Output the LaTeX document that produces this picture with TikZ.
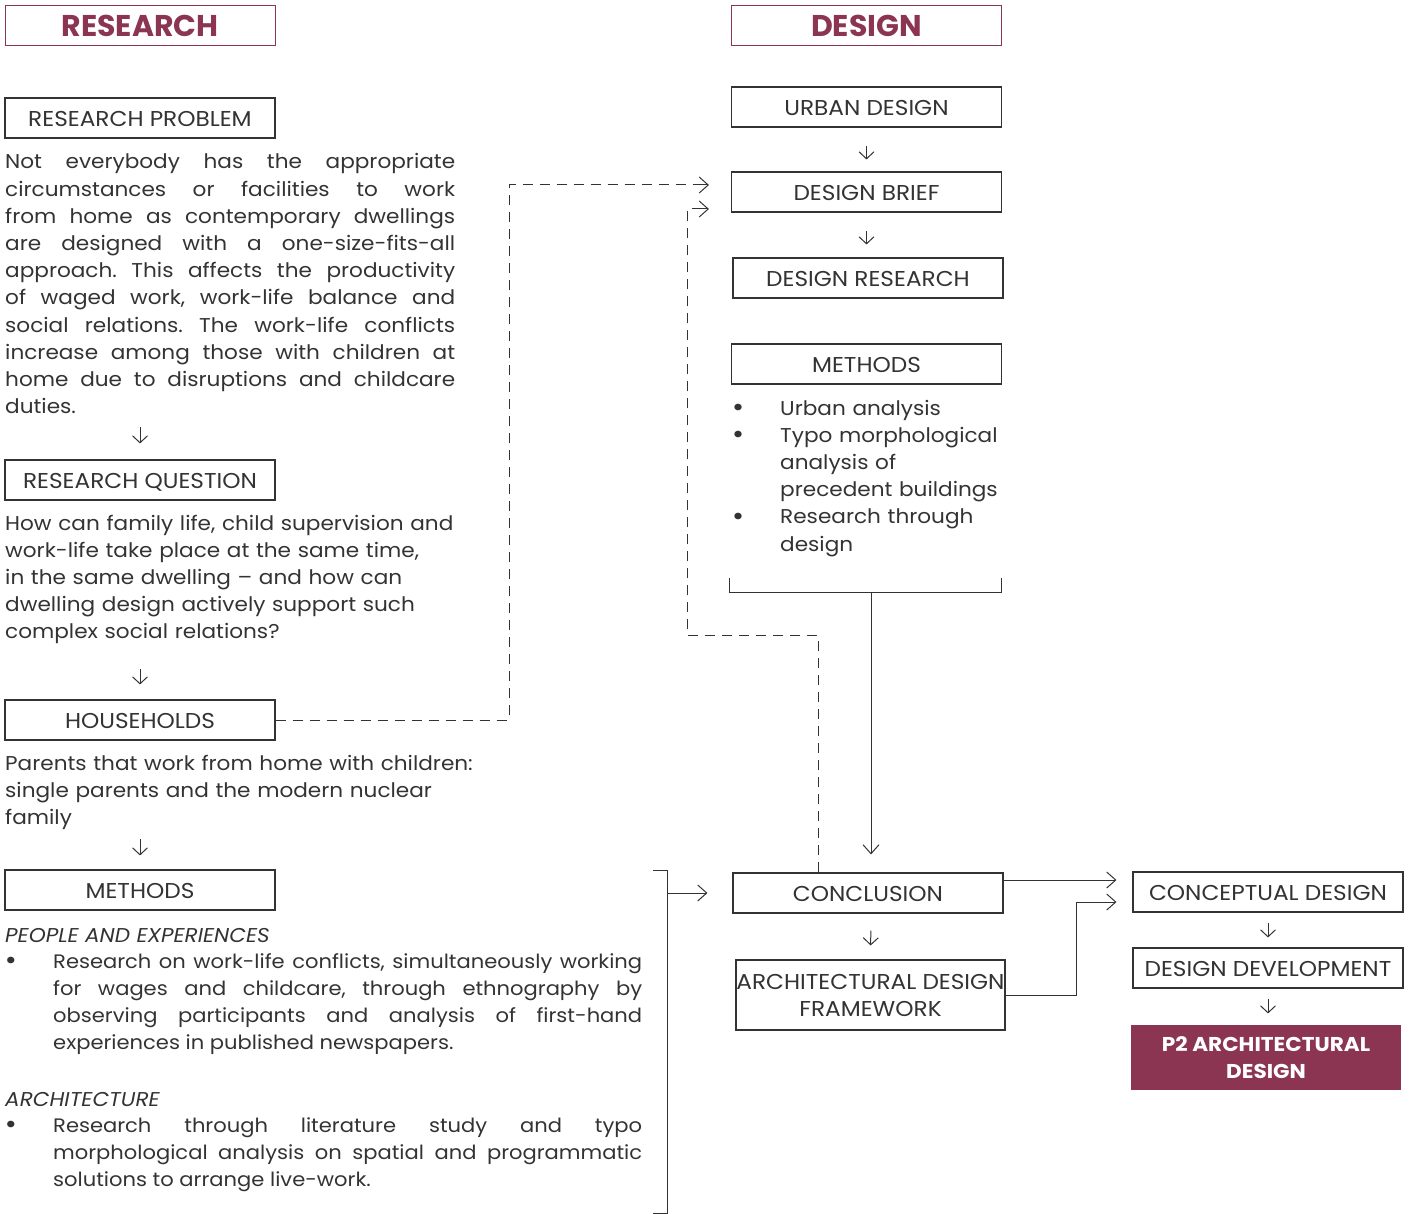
\documentclass[tikz,border=0pt]{standalone}
\usepackage{fontspec}
\setmainfont{Poppins}[FakeStretch=1.08]
\newfontfamily\headfont{Poppins}
\frenchspacing
\usetikzlibrary{arrows.meta,calc,positioning}
\definecolor{maroon}{HTML}{8B3553}
\definecolor{ink}{HTML}{333333}

\tikzset{
  hbox/.style={draw=maroon,line width=1pt,minimum width=270pt,minimum height=40pt,inner sep=0pt,
    text=maroon,font=\headfont\bfseries\fontsize{30}{34}\selectfont},
  sbox/.style={draw=ink,line width=1.1pt,minimum width=270pt,minimum height=40pt,inner sep=0pt,
    text=ink,text height=20pt,text depth=2.5pt,font=\fontsize{21.5}{27}\selectfont},
  txt/.style={anchor=base west,inner sep=0pt,text=ink,font=\fontsize{20}{27.2}\selectfont},
  bul/.style={anchor=base,inner sep=0pt,text=ink,font=\fontsize{27}{27}\selectfont},
  arr/.style={ink,line width=1pt,-{Straight Barb[length=9pt,width=16pt]}},
  sarr/.style={ink,line width=1pt,-{Straight Barb[length=7pt,width=15pt]}},
  dline/.style={ink,line width=1pt,dash pattern=on 10pt off 7pt},
}

\begin{document}
\begin{tikzpicture}[x=1pt,y=-1pt]
\useasboundingbox (0,0) rectangle (1410,1214);

% headers
\node[hbox] (hres) at (140,26) {RESEARCH};
\node[hbox] (hdes) at (866.5,26) {DESIGN};

% research column
\node[sbox] (rp) at (140,118) {RESEARCH PROBLEM};
\node[txt,text width=450pt,align=justify] (rptext) at (5,169) {Not everybody has the appropriate\linebreak
circumstances or facilities to work\linebreak
from home as contemporary dwellings\linebreak
are designed with a one-size-fits-all\linebreak
approach. This affects the productivity\linebreak
of waged work, work-life balance and\linebreak
social relations. The work-life conflicts\linebreak
increase among those with children at\linebreak
home due to disruptions and childcare\linebreak
duties.};
\node[sbox] (rq) at (140,480) {RESEARCH QUESTION};
\node[txt,text width=470pt,align=left] (rqtext) at (5,530) {How can family life, child supervision and\\
work-life take place at the same time,\\
in the same dwelling -- and how can\\
dwelling design actively support such\\
complex social relations?};
\node[sbox] (hh) at (140,720) {HOUSEHOLDS};
\node[txt,text width=490pt,align=left] (hhtext) at (5,770) {Parents that work from home with children:\\
single parents and the modern nuclear\\
family};
\node[sbox] (mth) at (140,890) {METHODS};
\node[txt] (pe) at (5,942) {\itshape PEOPLE AND EXPERIENCES};
\node[bul] (b1) at (11,969) {\textbullet};
\node[txt,text width=589pt,align=justify,font=\fontsize{19.5}{27.3}\selectfont] (petext) at (53,968)
{Research on work-life conflicts, simultaneously working\linebreak
for wages and childcare, through ethnography by\linebreak
observing participants and analysis of first-hand\linebreak
experiences in published newspapers.};
\node[txt] (ar) at (5,1106) {\itshape ARCHITECTURE};
\node[bul] (b2) at (11,1133) {\textbullet};
\node[txt,text width=589pt,align=justify,font=\fontsize{19.5}{27.3}\selectfont] (artext) at (53,1132)
{Research through literature study and typo\linebreak
morphological analysis on spatial and programmatic\linebreak
solutions to arrange live-work.};

\draw[sarr] ([yshift=32pt]rq.north) -- ([yshift=16pt]rq.north);
\draw[sarr] ([yshift=30pt]hh.north) -- ([yshift=15pt]hh.north);
\draw[sarr] ([yshift=30pt]mth.north) -- ([yshift=14pt]mth.north);

% design column
\node[sbox] (ud) at (866.5,107) {URBAN DESIGN};
\node[sbox] (db) at (866.5,192) {DESIGN BRIEF};
\node[sbox] (dr) at (868,278) {DESIGN RESEARCH};
\node[sbox] (dm) at (866.5,364) {METHODS};
\node[bul] (b3) at (738,416) {\textbullet};
\node[bul] (b4) at (738,443) {\textbullet};
\node[bul] (b5) at (738,525) {\textbullet};
\node[txt,text width=240pt,align=left] (dmtext) at (780,415) {Urban analysis\\
Typo morphological\\
analysis of\\
precedent buildings\\
Research through\\
design};

\draw[sarr,shorten <=18pt,shorten >=12pt] (ud.south) -- (db.north);
\draw[sarr,shorten <=18pt,shorten >=13pt] (db.south) -- (db.south |- dr.north);

\coordinate (bl) at (729,578);
\coordinate (br) at (1001,578);
\coordinate (bm) at (871,592);
\draw[ink,line width=1pt] (bl) |- (br |- bm) -- (br);

\node[sbox,minimum width=270pt] (conc) at (868,893) {CONCLUSION};
\node[sbox,minimum width=269pt,minimum height=70pt,align=center,text height=,text depth=] (adf) at (870.5,995)
  {ARCHITECTURAL DESIGN\\FRAMEWORK};
\draw[arr] (bm) -- ([xshift=3pt,yshift=18pt]conc.north);
\draw[sarr,shorten <=17pt,shorten >=14pt] ([xshift=3pt]conc.south) -- (adf.north);

% final column
\node[sbox] (cd) at (1268,892) {CONCEPTUAL DESIGN};
\node[sbox] (dd) at (1268,968) {DESIGN DEVELOPMENT};
\node[sbox,draw=none,fill=maroon,text=white,minimum height=65pt,align=center,text height=,text depth=,
  font=\bfseries\fontsize{20}{27}\selectfont] (p2) at (1266,1057.5) {P2 ARCHITECTURAL\\DESIGN};
\draw[sarr,shorten <=10pt,shorten >=10pt] (cd.south) -- (dd.north);
\draw[sarr,shorten <=10pt,shorten >=11pt] (dd.south) -- (dd.south |- p2.north);

\draw[arr] ([yshift=13pt]conc.east) -- ([xshift=-16pt,yshift=12pt]cd.west);
\draw[arr] (adf.east) -- ++(71,0) |- ([xshift=-16pt,yshift=-10pt]cd.west);

% bracket into conclusion
\coordinate (lt) at (653,870);
\coordinate (lb) at (653,1213);
\coordinate (lm) at (667,893);
\draw[ink,line width=1pt] (lt) -| (lb -| lm) -- (lb);
\draw[arr] (lm) -- ([xshift=-25pt]conc.west);

% dashed links back to the brief
\draw[dline] (hh.east) -- (509,720) |- ([xshift=-24pt,yshift=7pt]db.west);
\draw[arr] ([xshift=-32pt,yshift=7pt]db.west) -- ([xshift=-22pt,yshift=7pt]db.west);
\draw[dline] ([xshift=-50pt]conc.north) -- ++(0,-237) -| (687,209) -- ([xshift=-24pt,yshift=-17pt]db.west);
\draw[arr] ([xshift=-32pt,yshift=-17pt]db.west) -- ([xshift=-22pt,yshift=-17pt]db.west);

\end{tikzpicture}
\end{document}
